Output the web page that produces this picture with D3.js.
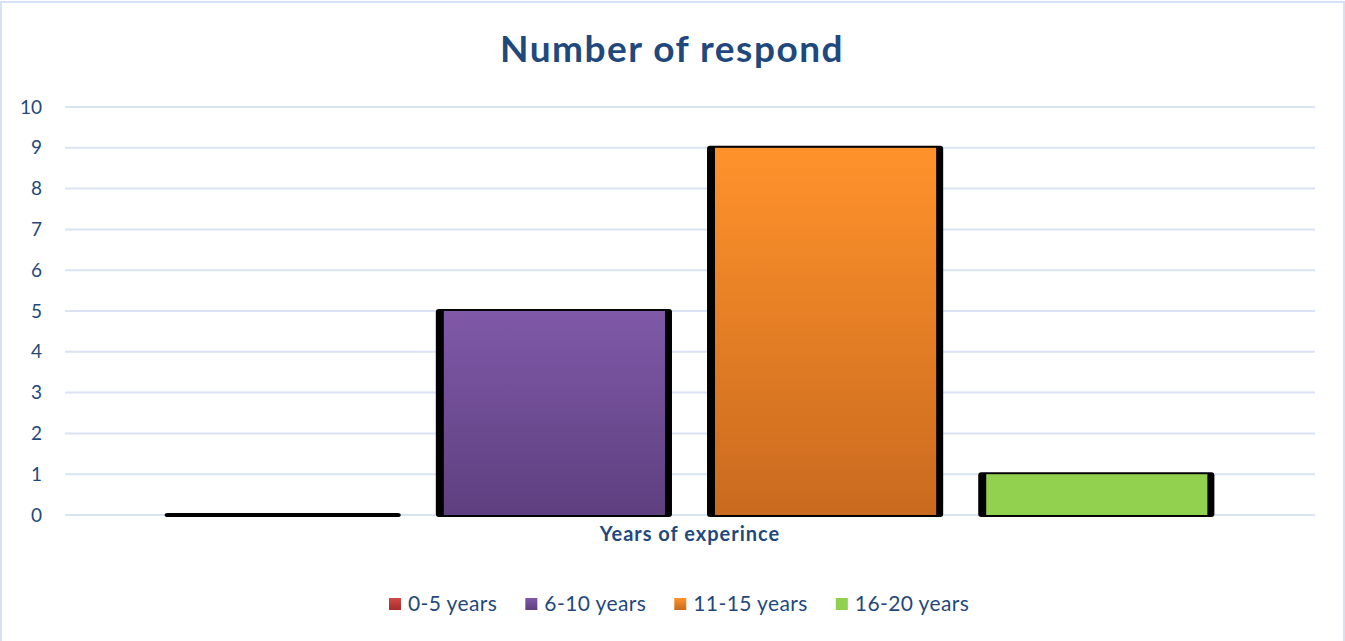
<!DOCTYPE html>
<html>
<head>
<meta charset="utf-8">
<script src="https://cdn.jsdelivr.net/npm/d3@7"></script>
<style>
  html, body { margin: 0; padding: 0; background: #fff; }
  svg { display: block; font-family: Lato, "Open Sans", sans-serif; }
</style>
</head>
<body>
<svg id="chart" width="1345" height="641"></svg>
<script>
// Chart data
const categories = ["Years of experince"];
const seriesNames = ["0-5 years", "6-10 years", "11-15 years", "16-20 years"];
const seriesValues = [0, 5, 9, 1];
const yTicks = [0, 1, 2, 3, 4, 5, 6, 7, 8, 9, 10];
const seriesColors = [
  ["#d04a45", "#a52c2a"],
  ["#7f59a8", "#5e3f7f"],
  ["#ff922b", "#c96a1f"],
  ["#92d050", "#92d050"]
];

const W = 1345, H = 641;
const svg = d3.select("#chart");
const textColor = "#1f497d";

// Outer frame
svg.append("rect")
  .attr("x", 1).attr("y", 2).attr("width", W - 2).attr("height", H)
  .attr("fill", "#fff").attr("stroke", "#d6e2f3").attr("stroke-width", 2);

// Gradients for the bar fills
const defs = svg.append("defs");
seriesColors.forEach((c, i) => {
  const g = defs.append("linearGradient")
    .attr("id", "grad" + i).attr("x1", 0).attr("y1", 0).attr("x2", 0).attr("y2", 1);
  g.append("stop").attr("offset", "0%").attr("stop-color", c[0]);
  g.append("stop").attr("offset", "100%").attr("stop-color", c[1]);
});

const plot = { left: 65, right: 1315, top: 107, bottom: 515 };

const y = d3.scaleLinear().domain([0, 10]).range([plot.bottom, plot.top]);
const x0 = d3.scaleBand().domain(categories)
  .range([plot.left, plot.right]).paddingInner(0).paddingOuter(0.104);
const x1 = d3.scaleBand().domain(seriesNames)
  .range([0, x0.bandwidth()]).paddingInner(0.1845).paddingOuter(0);

// Gridlines
svg.append("g").selectAll("line").data(yTicks).join("line")
  .attr("x1", plot.left).attr("x2", plot.right)
  .attr("y1", d => y(d)).attr("y2", d => y(d))
  .attr("stroke", "#d9e3f3").attr("stroke-width", 2);

// Y axis labels
const yAxis = d3.axisLeft(y).tickValues(yTicks).tickSize(0).tickPadding(0);
const yg = svg.append("g").attr("transform", `translate(${42},0)`).call(yAxis);
yg.select(".domain").remove();
yg.selectAll("text")
  .attr("fill", textColor).attr("font-size", 19)
  .attr("font-family", "Lato, 'Open Sans', sans-serif");

// Bars
const bars = svg.append("g").selectAll("g").data(seriesNames).join("g")
  .attr("transform", d => `translate(${x0(categories[0]) + x1(d)},0)`);

// dark backing gives each bar its raised edge
bars.append("rect")
  .attr("x", -8)
  .attr("y", (d, i) => y(seriesValues[i]) - 2)
  .attr("width", x1.bandwidth() + 15)
  .attr("height", (d, i) => y(0) - y(seriesValues[i]) + 4)
  .attr("rx", 3)
  .attr("fill", "#000");

bars.append("rect")
  .attr("x", 0)
  .attr("y", (d, i) => y(seriesValues[i]))
  .attr("width", x1.bandwidth())
  .attr("height", (d, i) => y(0) - y(seriesValues[i]))
  .attr("fill", (d, i) => `url(#grad${i})`);

// Title
svg.append("text")
  .attr("x", 672).attr("y", 62)
  .attr("text-anchor", "middle")
  .attr("font-size", 37).attr("font-weight", "bold")
  .attr("letter-spacing", 1.5)
  .attr("fill", textColor)
  .text("Number of respond");

// Category axis title
svg.append("text")
  .attr("x", 690).attr("y", 541)
  .attr("text-anchor", "middle")
  .attr("font-size", 20).attr("font-weight", "bold")
  .attr("letter-spacing", 1)
  .attr("fill", textColor)
  .text(categories[0]);

// Legend: swatch, label, then a fixed gap before the next entry
const legend = svg.append("g").attr("transform", "translate(0,598)");
const items = legend.selectAll("g").data(seriesNames).join("g");
items.append("rect")
  .attr("width", 12).attr("height", 12)
  .attr("fill", (d, i) => `url(#grad${i})`);
items.append("text")
  .attr("x", 19).attr("y", 13)
  .attr("font-size", 21)
  .attr("letter-spacing", 0.4)
  .attr("fill", textColor)
  .text(d => d);
let cursor = 389;
items.each(function () {
  const g = d3.select(this);
  g.attr("transform", `translate(${cursor},0)`);
  cursor += 19 + g.select("text").node().getComputedTextLength() + 28;
});
</script>
</body>
</html>
